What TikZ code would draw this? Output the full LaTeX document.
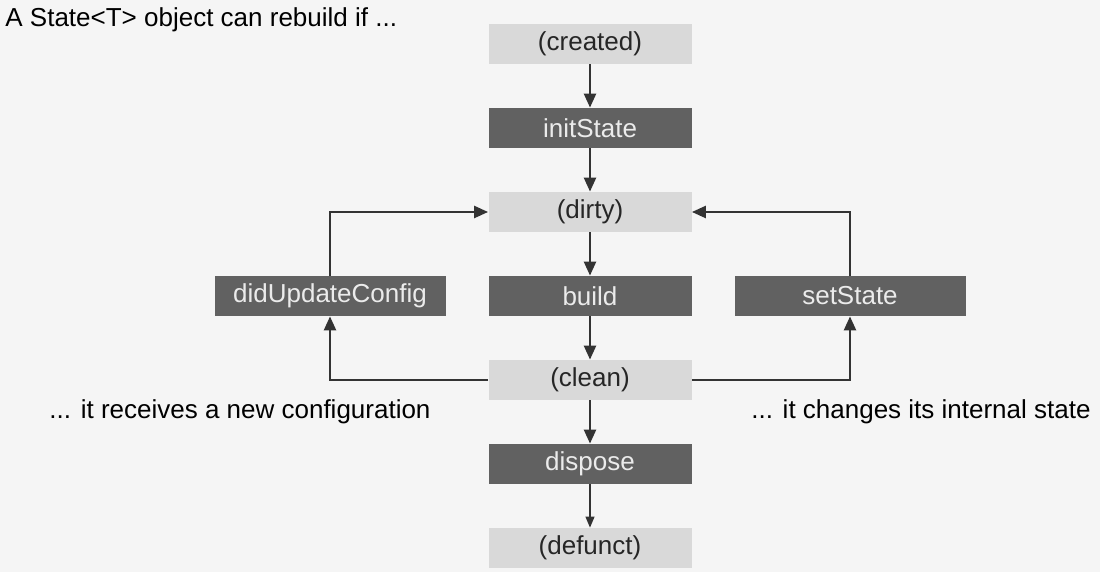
\documentclass[tikz,border=0pt]{standalone}
\usepackage{fontspec}
\setmainfont{Liberation Sans}
\usetikzlibrary{arrows.meta}
\definecolor{bgcol}{HTML}{F5F5F5}
\definecolor{lightbox}{HTML}{D9D9D9}
\definecolor{darkbox}{HTML}{616161}
\definecolor{linecol}{HTML}{333333}
\begin{document}
\begin{tikzpicture}[node distance = 42pt,
        font = \fontsize{13pt}{15pt}\selectfont,
        > = {Triangle[length = 7pt, width = 6pt]},
        statebox/.style = {fill = lightbox, text = black!85, minimum width = 101.5pt, minimum height = 20pt, inner sep = 0pt},
        methodbox/.style = {fill = darkbox, text = white!92!black, minimum width = 101.5pt, minimum height = 20pt, inner sep = 0pt},
        sidebox/.style = {methodbox, minimum width = 115.5pt},
        flow/.style = {draw = linecol, line width = 1.2pt, ->},
        every edge/.style = {draw = linecol, line width = 1.2pt},
        thinarrow/.style = {draw = linecol, line width = 0.6pt, -{Triangle[length = 5.5pt, width = 4.5pt]}}]
        \fill[bgcol] (0,0) rectangle (550pt,-286pt);
        \useasboundingbox (0,0) rectangle (550pt,-286pt);
        \node (title) [anchor = west, inner sep = 0pt] at (2.5pt,-10pt) {A State<T> object can rebuild if ...};
        \node (created) [statebox] at (295pt,-22pt) {(created)};
        \node (init) [below of = created, methodbox] {initState} edge [<-] (created);
        \node (dirty) [below of = init, statebox] {(dirty)} edge [<-] (init);
        \node (build) [below of = dirty, methodbox] {build} edge [<-] (dirty);
        \node (clean) [below of = build, statebox] {(clean)} edge [<-] (build);
        \node (dispose) [below of = clean, methodbox] {dispose} edge [<-] (clean);
        \node (defunct) [below of = dispose, statebox] {(defunct)};
        \path (dispose) edge [thinarrow] (defunct);
        \node (config) [left of = build, node distance = 130pt, sidebox] {didUpdateConfig};
        \node (setstate) [right of = build, node distance = 130pt, sidebox] {setState};
        \draw [flow] (clean.west) -| (config.south);
        \draw [flow] (config.north) |- (dirty.west);
        \draw [flow] (clean.east) -| (setstate.south);
        \draw [flow] (setstate.north) |- (dirty.east);
        \node (newconfig) at (120pt,-206pt) {... it receives a new configuration};
        \node (newstate) at (460.5pt,-206pt) {... it changes its internal state};
    \end{tikzpicture}
\end{document}
